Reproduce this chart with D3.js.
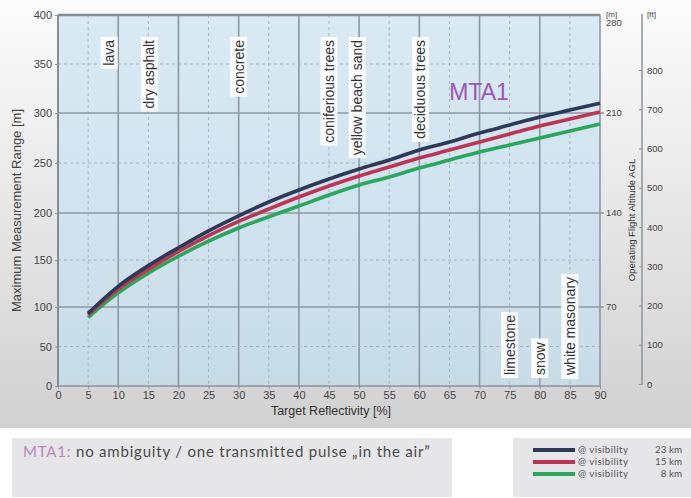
<!DOCTYPE html>
<meta charset="utf-8">
<html>
<head>
<style>
  body { margin: 0; background: #fff; font-family: "Liberation Sans", Arial, sans-serif; }
  svg { display: block; }
</style>
</head>
<body>
<svg id="chart" width="691" height="498"></svg>
<script src="https://d3js.org/d3.v7.min.js"></script>
<script>
// reflectivity [%] and max range [m] for the three visibilities
const reflectivity = [5, 10, 15, 20, 25, 30, 35, 40, 45, 50, 55, 60, 65, 70, 75, 80, 85, 90];
const range23km = [92, 122, 144, 163, 181, 197, 211, 223, 234, 244, 253, 263, 271, 280, 288, 296, 303, 310];
const range15km = [90, 119, 140, 159, 176, 191, 204, 216, 227, 237, 246, 255, 263, 271, 279, 287, 294, 301];
const range8km  = [87, 115, 136, 154, 170, 184, 196, 207, 218, 228, 236, 245, 253, 261, 268, 275, 282, 289];

const seriesNames = ["23 km", "15 km", "8 km"];
const seriesColors = ["#2c3a5a", "#c23252", "#28a85c"];

const xTicks = [0, 5, 10, 15, 20, 25, 30, 35, 40, 45, 50, 55, 60, 65, 70, 75, 80, 85, 90];
const yTicks = [0, 50, 100, 150, 200, 250, 300, 350, 400];
const mTicks = [70, 140, 210, 280];
const ftTicks = [0, 100, 200, 300, 400, 500, 600, 700, 800];

// surface labels: reflectivity where they sit, and whether hung from top or bottom
const surfaceNames = ["lava", "dry asphalt", "concrete", "coniferious trees", "yellow beach sand",
                      "deciduous trees", "limestone", "snow", "white masonary"];
const surfaceRefl = [8.5, 15.2, 30, 45, 49.7, 60.2, 75, 80, 85];
const surfaceSide = ["top", "top", "top", "top", "top", "top", "bottom", "bottom", "bottom"];

const svg = d3.select("#chart");
const W = 691, H = 498;
const pLeft = 58, pRight = 600, pTop = 15, pBottom = 386;

const defs = svg.append("defs");
const bg = defs.append("linearGradient").attr("id", "bg").attr("x1", 0).attr("y1", 0).attr("x2", 0).attr("y2", 1);
bg.append("stop").attr("offset", "0%").attr("stop-color", "#fcfcfc");
bg.append("stop").attr("offset", "100%").attr("stop-color", "#d1d1d1");
const pg = defs.append("linearGradient").attr("id", "plotbg").attr("x1", 0).attr("y1", 0).attr("x2", 0).attr("y2", 1);
pg.append("stop").attr("offset", "0%").attr("stop-color", "#d9eaf4");
pg.append("stop").attr("offset", "100%").attr("stop-color", "#c8dce8");

svg.append("rect").attr("x", 0).attr("y", 0).attr("width", W).attr("height", 428).attr("fill", "url(#bg)");

const x = d3.scaleLinear().domain([0, 90]).range([pLeft, pRight]);
// the original grid is not evenly spaced, so map each major line
const y = d3.scaleLinear().domain([0, 100, 200, 300, 400]).range([pBottom, 307, 213, 113, pTop]);
const yM = d => y(d / 0.7);
const yFt = d3.scaleLinear().domain([0, 800]).range([384, 70]);

svg.append("rect").attr("x", pLeft).attr("y", pTop).attr("width", pRight - pLeft).attr("height", pBottom - pTop)
  .attr("fill", "url(#plotbg)");

// grid
const grid = svg.append("g");
grid.selectAll(".vg").data(xTicks.filter(d => d > 0 && d < 90)).join("line")
  .attr("x1", d => x(d)).attr("x2", d => x(d)).attr("y1", pTop).attr("y2", pBottom)
  .attr("stroke", d => d % 10 === 0 ? "#8d98a2" : "#a6b6c2")
  .attr("stroke-width", d => d % 10 === 0 ? 1.6 : 1)
  .attr("stroke-dasharray", d => d % 10 === 0 ? null : "3,3");
grid.selectAll(".hg").data(yTicks.filter(d => d > 0 && d < 400)).join("line")
  .attr("x1", pLeft).attr("x2", pRight).attr("y1", d => y(d)).attr("y2", d => y(d))
  .attr("stroke", d => d % 100 === 0 ? "#8d98a2" : "#a6b6c2")
  .attr("stroke-width", d => d % 100 === 0 ? 1.6 : 1)
  .attr("stroke-dasharray", d => d % 100 === 0 ? null : "3,3");

// frame
svg.append("rect").attr("x", pLeft).attr("y", pTop).attr("width", pRight - pLeft).attr("height", pBottom - pTop)
  .attr("fill", "none").attr("stroke", "#8a939b").attr("stroke-width", 1.5);
svg.append("line").attr("x1", pLeft).attr("x2", pRight).attr("y1", pTop).attr("y2", pTop)
  .attr("stroke", "#858e96").attr("stroke-width", 2.5);
svg.append("line").attr("x1", pLeft).attr("x2", pLeft).attr("y1", pTop).attr("y2", pBottom)
  .attr("stroke", "#858e96").attr("stroke-width", 2);

const tickFont = "'Liberation Sans Narrow', 'Arial Narrow', 'Liberation Sans', sans-serif";

// left axis
const yAxis = svg.append("g").attr("transform", `translate(${pLeft},0)`)
  .call(d3.axisLeft(y).tickValues(yTicks).tickSize(3).tickPadding(3));
yAxis.select(".domain").remove();
yAxis.selectAll("line").attr("stroke", "#8a939b");
yAxis.selectAll("text").attr("font-family", tickFont).attr("font-size", 11).attr("fill", "#444");

// bottom axis
const xAxis = svg.append("g").attr("transform", `translate(0,${pBottom})`)
  .call(d3.axisBottom(x).tickValues(xTicks).tickSize(3).tickPadding(2));
xAxis.select(".domain").remove();
xAxis.selectAll("line").attr("stroke", "#8a939b");
xAxis.selectAll("text").attr("font-family", tickFont).attr("font-size", 11).attr("fill", "#444");

// right [m] axis
const mAxis = svg.append("g");
mAxis.selectAll("text").data(mTicks).join("text")
  .attr("x", pRight + 6).attr("y", d => d === 280 ? yM(d) + 8 : yM(d)).attr("dy", "0.35em")
  .attr("font-family", tickFont).attr("font-size", 9.5).attr("fill", "#444").text(d => d);
mAxis.selectAll("line").data(mTicks.filter(d => d < 280)).join("line")
  .attr("x1", pRight).attr("x2", pRight + 4).attr("y1", d => yM(d)).attr("y2", d => yM(d))
  .attr("stroke", "#8a939b").attr("stroke-width", 1.5);
svg.append("text").attr("x", pRight + 6).attr("y", 14).attr("dy", "0.35em")
  .attr("font-family", tickFont).attr("font-size", 8).attr("fill", "#444").text("[m]");

// right [ft] axis
const ftX = 642;
const ftAxis = svg.append("g").attr("transform", `translate(${ftX},0)`)
  .call(d3.axisRight(yFt).tickValues(ftTicks).tickSize(0).tickPadding(5));
ftAxis.select(".domain").remove();
ftAxis.selectAll("text").attr("font-family", tickFont).attr("font-size", 9.5).attr("fill", "#444");
ftAxis.selectAll(".tick").append("line").attr("x1", -3).attr("x2", 0).attr("stroke", "#8a939b");
svg.append("line").attr("x1", ftX).attr("x2", ftX).attr("y1", 14).attr("y2", 385)
  .attr("stroke", "#8a939b").attr("stroke-width", 1.5);
svg.append("text").attr("x", ftX + 5).attr("y", 14).attr("dy", "0.35em")
  .attr("font-family", tickFont).attr("font-size", 8).attr("fill", "#444").text("[ft]");

// axis titles
svg.append("text").attr("transform", `translate(21,${(pTop + pBottom) / 2 + 10}) rotate(-90)`)
  .attr("text-anchor", "middle").attr("font-size", 13).attr("fill", "#444")
  .text("Maximum Measurement Range [m]");
svg.append("text").attr("x", (pLeft + pRight) / 2 + 2).attr("y", 415)
  .attr("text-anchor", "middle").attr("font-size", 12.5).attr("fill", "#333")
  .text("Target Reflectivity [%]");
svg.append("text").attr("transform", `translate(635,220) rotate(-90)`)
  .attr("text-anchor", "middle").attr("font-size", 9.5).attr("fill", "#333")
  .text("Operating Flight Altitude AGL");

// surface labels
surfaceNames.forEach((name, i) => {
  const isTop = surfaceSide[i] === "top";
  const g = svg.append("g")
    .attr("transform", `translate(${x(surfaceRefl[i])},${isTop ? 40 : 375}) rotate(-90)`);
  const t = g.append("text").attr("text-anchor", isTop ? "end" : "start").attr("dy", "0.35em")
    .attr("font-size", 14).attr("fill", "#333").text(name);
  const b = t.node().getBBox();
  g.insert("rect", "text").attr("x", b.x - 3).attr("y", b.y - 0.5)
    .attr("width", b.width + 6).attr("height", b.height + 1).attr("fill", "#fafcfd");
});

// curves
const seriesData = [range23km, range15km, range8km];
const line = d3.line().x((d, i) => x(reflectivity[i])).y(d => y(d)).curve(d3.curveMonotoneX);
svg.append("g").selectAll("path").data(seriesData.slice().reverse()).join("path")
  .attr("d", d => line(d))
  .attr("fill", "none")
  .attr("stroke", (d, i) => seriesColors[seriesColors.length - 1 - i])
  .attr("stroke-width", 3.6);

svg.append("text").attr("x", 479).attr("y", 100).attr("text-anchor", "middle")
  .attr("font-size", 23).attr("fill", "#9b58b0").text("MTA1");

// bottom note
svg.append("rect").attr("x", 12).attr("y", 438).attr("width", 440).attr("height", 59).attr("fill", "#e6e6e8");
const note = svg.append("text").attr("x", 23).attr("y", 457).attr("font-family", "Lato, sans-serif")
  .attr("font-size", 15).attr("letter-spacing", 0.8);
note.append("tspan").attr("fill", "#b888c0").text("MTA1: ");
note.append("tspan").attr("fill", "#4a4a4a").text("no ambiguity / one transmitted pulse \u201Ein the air\u201D");

// legend
svg.append("rect").attr("x", 513).attr("y", 438).attr("width", 178).attr("height", 59).attr("fill", "#e6e6e8");
const leg = svg.append("g").selectAll("g").data(seriesNames).join("g")
  .attr("transform", (d, i) => `translate(0,${450 + i * 12})`);
leg.append("line").attr("x1", 533).attr("x2", 575).attr("stroke", (d, i) => seriesColors[i]).attr("stroke-width", 4);
leg.append("text").attr("x", 578).attr("dy", "0.35em").attr("font-family", "Lato, sans-serif")
  .attr("font-size", 9.8).attr("fill", "#555").attr("letter-spacing", 0.4).text("@ visibility");
leg.append("text").attr("x", 682).attr("dy", "0.35em").attr("text-anchor", "end")
  .attr("font-family", "Lato, sans-serif").attr("font-size", 9.8).attr("fill", "#555").text(d => d);
</script>
</body>
</html>
